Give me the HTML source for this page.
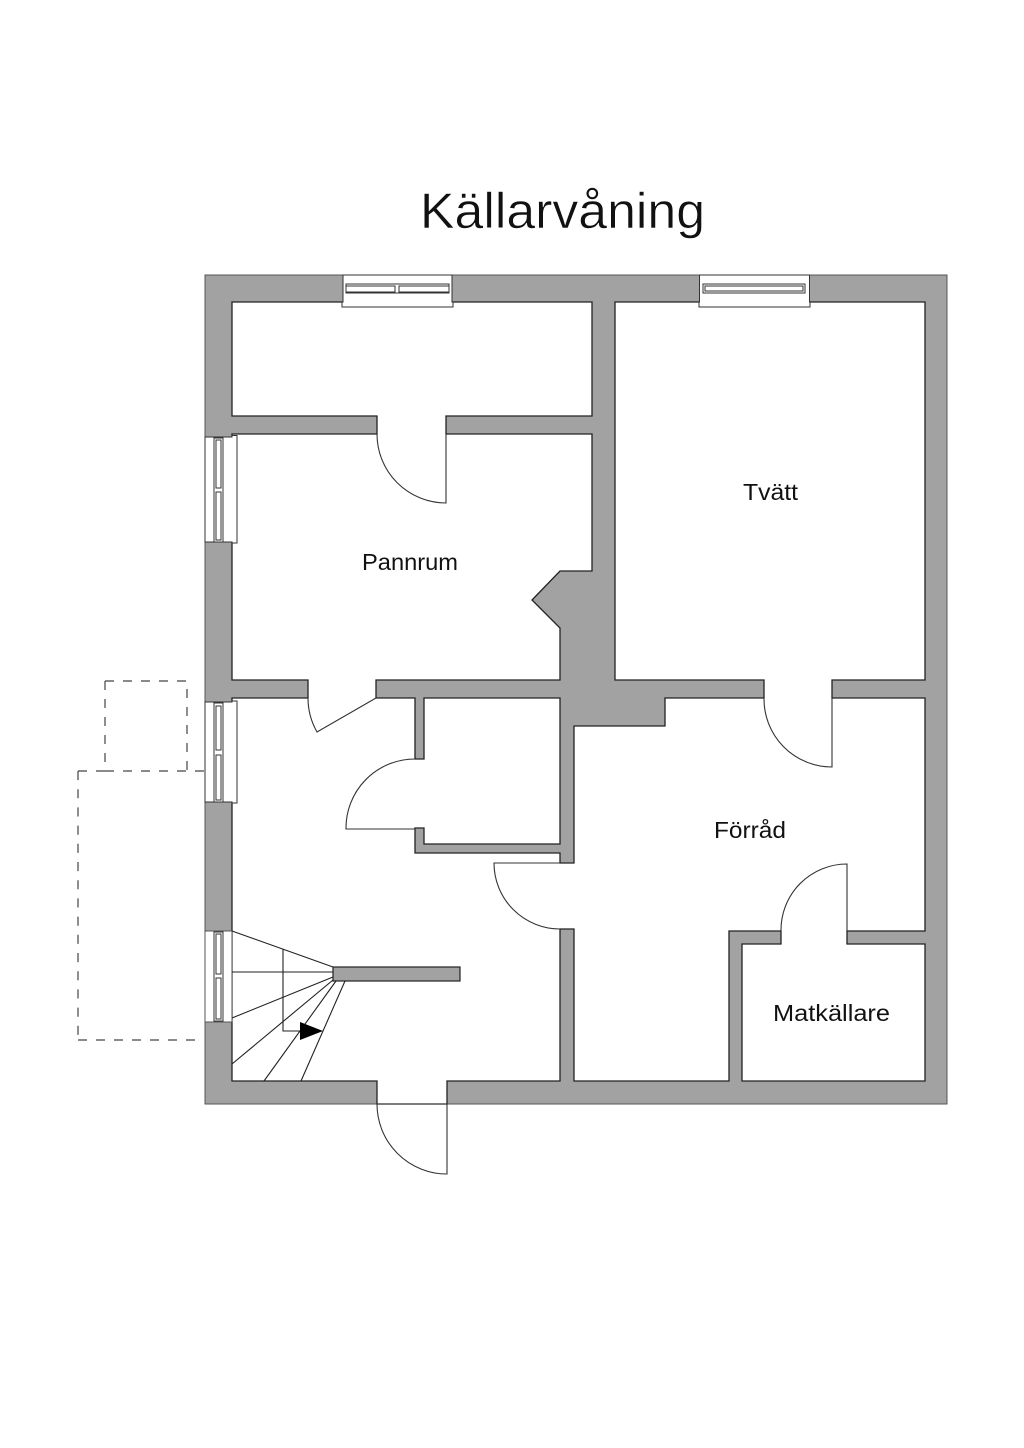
<!DOCTYPE html>
<html lang="sv">
<head>
<meta charset="utf-8">
<title>Källarvåning</title>
<style>
html,body{margin:0;padding:0;background:#fff}
svg{display:block}
text{font-family:"Liberation Sans",sans-serif;fill:#111}
</style>
</head>
<body>
<svg xmlns="http://www.w3.org/2000/svg" width="1024" height="1448" viewBox="0 0 1024 1448">
<rect width="1024" height="1448" fill="#fff"/>

<text x="420" y="228" font-size="50" textLength="285" lengthAdjust="spacingAndGlyphs" stroke="#fff" stroke-width="0.5" style="paint-order:normal">Källarvåning</text>

<!-- dashed outlines -->
<g fill="none" stroke="#444" stroke-width="1.2">
<path d="M105 681H187" stroke-dasharray="9 9"/>
<path d="M187 689V771" stroke-dasharray="9 9"/>
<path d="M105 681V771" stroke-dasharray="9 9"/>
<path d="M78 771H87M96 771H114"/>
<path d="M123 771H205" stroke-dasharray="9 9"/>
<path d="M78 771V1040" stroke-dasharray="9.1 9.1"/>
<path d="M78 1040H196" stroke-dasharray="9 9"/>
</g>

<!-- building -->
<rect x="205" y="275" width="742" height="829" fill="#a2a2a2" stroke="#555" stroke-width="1"/>

<!-- connected interior spaces -->
<path fill="#fff" stroke="#222" stroke-width="1.3" stroke-linejoin="miter" d="M232 302H592V416H446V434H592V571H560L532 600L560 628V680H376V698H415V759H424V698H560V844H424V828H415V853H560V863H574V726H665V698H764V680H615V302H925V680H832V698H925V931H847V944H925V1081H742V944H781V931H729V1081H574V929H560V1081H447V1104H377V1081H232V698H308V680H232V434H377V416H232Z"/>

<!-- door swings -->
<g fill="none" stroke="#333" stroke-width="1.1">
<path d="M377 434A69 69 0 0 0 446 503V434"/>
<path d="M308 698A69 69 0 0 0 317 732L376 698"/>
<path d="M415 759A69 69 0 0 0 346 829H415"/>
<path d="M560 863H494A66 66 0 0 0 560 929"/>
<path d="M764 698A68 68 0 0 0 832 767V698"/>
<path d="M781 931A66 66 0 0 1 847 864V931"/>
<path d="M377 1104H447M377 1104A70 70 0 0 0 447 1174V1104"/>
</g>

<!-- top windows -->
<g stroke="#333" stroke-width="1" fill="#fff">
<path d="M343 275H452V302H453V307H342V302H343Z"/>
<rect x="346" y="284" width="103" height="9"/>
<rect x="346" y="286" width="49" height="6" fill="none"/>
<rect x="399" y="286" width="50" height="6" fill="none"/>
<path d="M699.5 275H809.5V302H810V307H699V302H699.5Z"/>
<rect x="703" y="284" width="102" height="9"/>
<rect x="705" y="286" width="98" height="5" fill="none"/>
</g>

<!-- left windows -->
<g stroke="#333" stroke-width="1" fill="#fff">
<path d="M205 437H232V435.5H237V543H232V542H205Z"/>
<rect x="214" y="438" width="9" height="104"/>
<rect x="216" y="440" width="5" height="48" fill="none"/>
<rect x="216" y="492" width="5" height="48" fill="none"/>

<path d="M205 702H232V701H237V803H232V802H205Z"/>
<rect x="214" y="703" width="9" height="99"/>
<rect x="216" y="706" width="5" height="44" fill="none"/>
<rect x="216" y="755" width="5" height="45" fill="none"/>

<path d="M205 931H232V1022H205Z" stroke="#555"/>
<rect x="214" y="932" width="9" height="89"/>
<rect x="216" y="934" width="5" height="40" fill="none"/>
<rect x="216" y="978" width="5" height="41" fill="none"/>
</g>

<!-- stairs -->
<g fill="none" stroke="#222" stroke-width="1.1">
<path d="M232 931L333 967M232 972H333M232 1018L333 977M232 1064L333 980M264 1081L336 981M301 1081L345 981"/>
<path d="M283 949V1031H300"/>
</g>
<rect x="333" y="967" width="127" height="14" fill="#a2a2a2" stroke="#222" stroke-width="1.2"/>
<path d="M300 1022L323 1031L300 1040Z" fill="#000"/>

<!-- labels -->
<text x="743" y="500" font-size="23" textLength="55" lengthAdjust="spacingAndGlyphs">Tvätt</text>
<text x="362" y="570" font-size="23" textLength="96" lengthAdjust="spacingAndGlyphs">Pannrum</text>
<text x="714" y="838" font-size="23" textLength="72" lengthAdjust="spacingAndGlyphs">Förråd</text>
<text x="773" y="1021" font-size="23" textLength="117" lengthAdjust="spacingAndGlyphs">Matkällare</text>
</svg>
</body>
</html>
